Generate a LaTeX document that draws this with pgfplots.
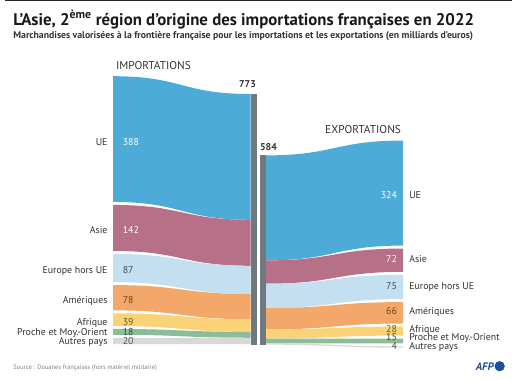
\documentclass[border=0pt]{standalone}
\usepackage{fontspec}
\setmainfont{PT Sans}
\usepackage{pgfplots}
\usepackage{pgfplotstable}
\pgfplotsset{compat=1.18}
\definecolor{cUE}{HTML}{4DACD7}
\definecolor{cAsie}{HTML}{B67088}
\definecolor{cEur}{HTML}{C4DFF0}
\definecolor{cAm}{HTML}{F3A768}
\definecolor{cAf}{HTML}{FAD278}
\definecolor{cPMO}{HTML}{8DBC98}
\definecolor{cAut}{HTML}{D8D8D8}
\definecolor{cBar}{HTML}{707A7E}
\definecolor{tEur}{HTML}{3A4A55}
\definecolor{tAm}{HTML}{6B4320}
\definecolor{tAf}{HTML}{6B5520}
\definecolor{tPMO}{HTML}{2F4F3A}
\definecolor{tAut}{HTML}{555555}
\definecolor{txt}{HTML}{333333}
\definecolor{afp}{HTML}{1D4F9C}
\begin{document}
% imp, exp: values (billions EUR); ly, ey: label heights (px) on import / export side
\pgfplotstableread{
imp exp ly ey
388 324 145 198
142 72 233 263
87 75 274 290
78 66 304 315
39 28 326 333
18 15 337 342
20 4 346 351
}\flows
\def\totImp{773}
\def\totExp{584}
\begin{tikzpicture}
\begin{axis}[width=512pt,height=383pt,scale only axis,hide axis,
  xmin=0,xmax=512,ymin=0,ymax=383,y dir=reverse,clip=false]
\pgfplotsextra{
  \pgfmathsetmacro\s{0.3275}
  \gdef\cumI{0}\gdef\cumE{0}
  \foreach \i/\col/\vc/\lab in {0/cUE/white/UE,1/cAsie/white/Asie,2/cEur/tEur/Europe hors UE,3/cAm/tAm/Amériques,4/cAf/tAf/Afrique,5/cPMO/tPMO/Proche et Moy.-Orient,6/cAut/tAut/Autres pays}{
    \pgfplotstablegetelem{\i}{imp}\of\flows \let\vI\pgfplotsretval
    \pgfplotstablegetelem{\i}{exp}\of\flows \let\vE\pgfplotsretval
    \pgfplotstablegetelem{\i}{ly}\of\flows \let\lyI\pgfplotsretval
    \pgfplotstablegetelem{\i}{ey}\of\flows \let\lyE\pgfplotsretval
    % imports: left side with gaps, right side contiguous at the bar
    \pgfmathsetmacro\aT{77+\s*\cumI+3*\i}
    \pgfmathsetmacro\aB{\aT+\s*\vI}
    \pgfmathsetmacro\bT{95+\s*\cumI}
    \pgfmathsetmacro\bB{\bT+\s*\vI}
    \fill[\col] (axis cs:109,\aT) .. controls (axis cs:178.5,\aT) and (axis cs:178.5,\bT) .. (axis cs:248,\bT)
       -- (axis cs:248,\bB) .. controls (axis cs:178.5,\bB) and (axis cs:178.5,\aB) .. (axis cs:109,\aB) -- cycle;
    % exports: left side contiguous at the bar, right side with gaps
    \pgfmathsetmacro\cT{157+\s*\cumE}
    \pgfmathsetmacro\cB{\cT+\s*\vE}
    \pgfmathsetmacro\dT{142+\s*\cumE+3*\i}
    \pgfmathsetmacro\dB{\dT+\s*\vE}
    \fill[\col] (axis cs:263.5,\cT) .. controls (axis cs:333,\cT) and (axis cs:333,\dT) .. (axis cs:402,\dT)
       -- (axis cs:402,\dB) .. controls (axis cs:333,\dB) and (axis cs:333,\cB) .. (axis cs:263.5,\cB) -- cycle;
    % labels
    \node[anchor=mid east,text=txt,font=\fontsize{10}{10}\selectfont,inner sep=0pt] at (axis cs:103.5,\lyI) {\lab};
    \node[anchor=mid west,text=\vc,font=\fontsize{10}{10}\selectfont,inner sep=0pt] at (axis cs:118.5,\lyI) {\vI};
    \node[anchor=mid west,text=txt,font=\fontsize{10}{10}\selectfont,inner sep=0pt] at (axis cs:408,\lyE) {\lab};
    \node[anchor=mid east,text=\vc,font=\fontsize{10}{10}\selectfont,inner sep=0pt] at (axis cs:396,\lyE) {\vE};
    \pgfmathsetmacro\nI{\cumI+\vI}\xdef\cumI{\nI}
    \pgfmathsetmacro\nE{\cumE+\vE}\xdef\cumE{\nE}
  }
  % totals bars
  \pgfmathsetmacro\impB{95+\s*\totImp}
  \pgfmathsetmacro\expB{157+\s*\totExp}
  \fill[cBar] (axis cs:248,95) rectangle (axis cs:254,\impB);
  \fill[cBar] (axis cs:257.5,157) rectangle (axis cs:263.5,\expB);
  \node[anchor=base east,text=txt,font=\fontsize{10}{10}\selectfont\bfseries,inner sep=0pt] at (axis cs:253.5,88) {\totImp};
  \node[anchor=base west,text=txt,font=\fontsize{10}{10}\selectfont\bfseries,inner sep=0pt] at (axis cs:257.3,151.7) {\totExp};
  % headings
  \node[anchor=base west,text=txt,font=\fontsize{11.5}{12}\selectfont,inner sep=0pt] at (axis cs:111.7,70) {IMPORTATIONS};
  \node[anchor=base east,text=txt,font=\fontsize{11.5}{12}\selectfont,inner sep=0pt] at (axis cs:400,135) {EXPORTATIONS};
  % title block
  \fill[black!85] (axis cs:0,0) rectangle (axis cs:512,1.3);
  \node[anchor=base west,text=black!90,font=\fontsize{17}{18}\selectfont\bfseries,inner sep=0pt] at (axis cs:8,25.3) {L’Asie, 2\textsuperscript{ème} région d’origine des importations françaises en 2022};
  \node[anchor=base west,text=black!80,font=\fontsize{9.85}{10}\selectfont\bfseries,inner sep=0pt] at (axis cs:8,38.5) {Marchandises valorisées à la frontière française pour les importations et les exportations (en milliards d’euros)};
  % source and logo
  \node[anchor=base west,text=black!50,font=\fontsize{6.5}{7}\selectfont,inner sep=0pt] at (axis cs:8,373) {Source : Douanes françaises (hors matériel militaire)};
  \node[anchor=base east,text=afp,font=\fontsize{11}{12}\selectfont\bfseries\itshape,inner sep=0pt] at (axis cs:493.5,374) {AFP};
  \fill[afp] (axis cs:499.5,370) circle[radius=5.2pt];
}
\end{axis}
\pgfresetboundingbox
\path (0,0) rectangle (512pt,383pt);
\end{tikzpicture}
\end{document}
